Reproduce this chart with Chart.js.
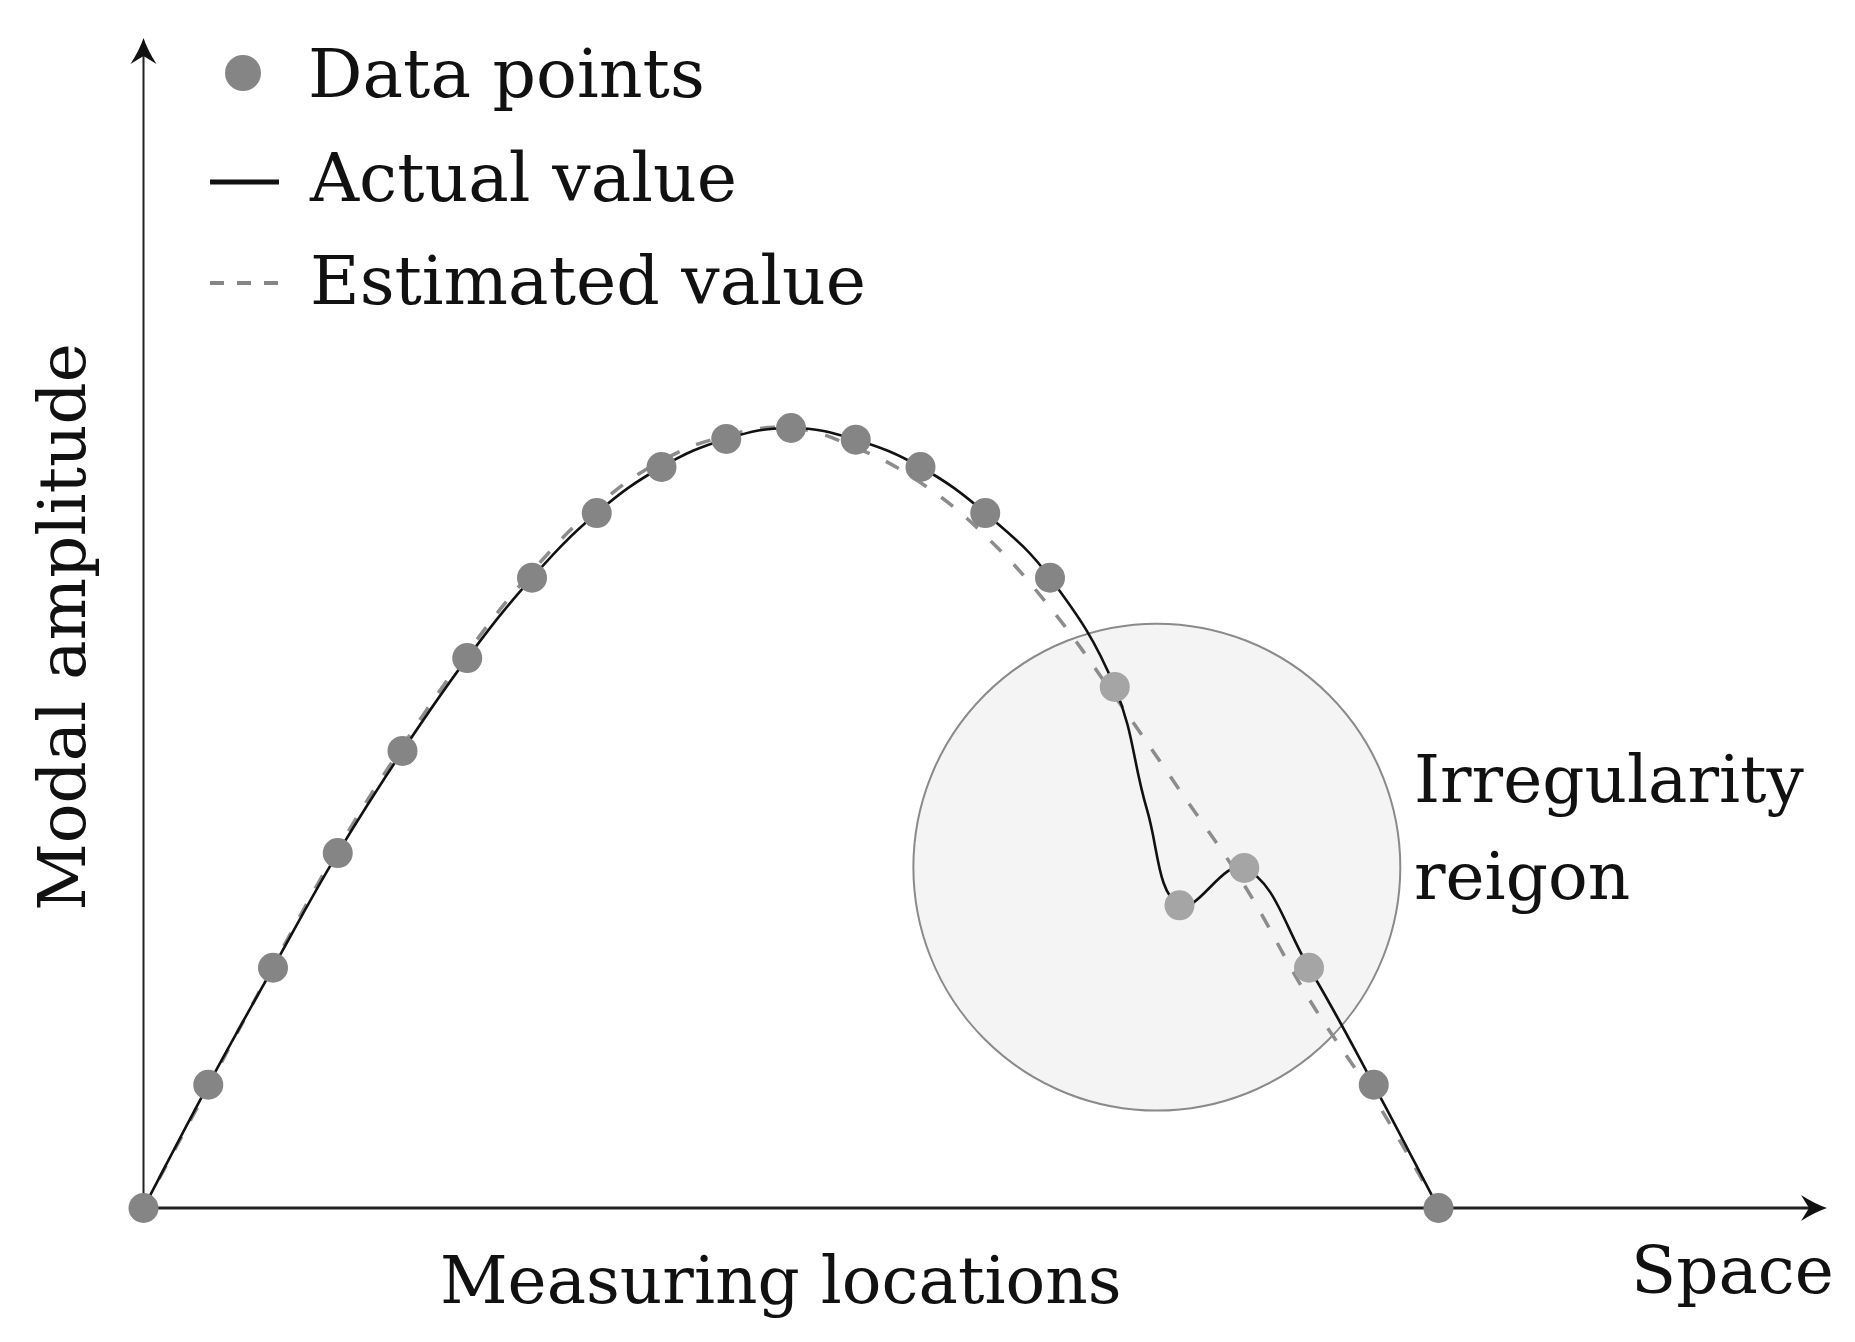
<!DOCTYPE html>
<html>
<head>
<meta charset="utf-8">
<script src="https://cdn.jsdelivr.net/npm/chart.js@4/dist/chart.umd.min.js"></script>
<style>
  html, body { margin: 0; padding: 0; background: #fff; }
  canvas { display: block; }
</style>
</head>
<body>
<canvas id="modeChart" width="1855" height="1342"></canvas>
<script>
// measuring locations along the span
const locations = [0, 1, 2, 3, 4, 5, 6, 7, 8, 9, 10, 11, 12, 13, 14, 15, 16, 17, 18, 19, 20];
// measured modal amplitude at each location (the grey dots)
const measuredAmp = [0, 0.158, 0.308, 0.455, 0.586, 0.705, 0.808, 0.891, 0.950, 0.986, 1.0,
  0.985, 0.950, 0.891, 0.808, 0.668, 0.388, 0.436, 0.308, 0.158, 0];
// actual mode shape (solid line)
const actualLocs = [0, 1, 2, 3, 4, 5, 6, 7, 8, 9, 10, 11, 12, 13, 14, 15, 15.5, 16, 17, 18, 19, 20];
const actualAmp = [0, 0.158, 0.308, 0.455, 0.586, 0.705, 0.808, 0.891, 0.950, 0.986, 1.0,
  0.985, 0.950, 0.891, 0.808, 0.668, 0.510, 0.388, 0.436, 0.308, 0.158, 0];
// estimated mode shape (dashed line)
const estimatedAmp = [0, 0.155, 0.310, 0.460, 0.592, 0.712, 0.816, 0.900, 0.958, 0.990, 1.0,
  0.975, 0.930, 0.862, 0.770, 0.656, 0.536, 0.414, 0.268, 0.142, 0];

// irregularity region (data units, radius in x units)
const regionX = 15.65;
const regionY = 0.437;
const regionR = 3.76;

const legendLabels = ["Data points", "Actual value", "Estimated value"];

const toXY = (xs, ys) => xs.map((x, i) => ({ x: x, y: ys[i] }));

const FONT = "'DejaVu Serif', serif";

// is a point inside the irregularity circle? (checked in pixels)
const inRegion = (chart, x, y) => {
  const sx = chart.scales.x, sy = chart.scales.y;
  const cx = sx.getPixelForValue(regionX), cy = sy.getPixelForValue(regionY);
  const r = sx.getPixelForValue(regionX + regionR) - cx;
  const px = sx.getPixelForValue(x), py = sy.getPixelForValue(y);
  return Math.hypot(px - cx, py - cy) < r;
};

const arrowHead = (ctx, tipX, tipY, dir) => {
  // dir: 'right' or 'up'
  ctx.save();
  ctx.translate(tipX, tipY);
  if (dir === 'up') ctx.rotate(-Math.PI / 2);
  ctx.beginPath();
  ctx.moveTo(0, 0);
  ctx.quadraticCurveTo(-12, -4, -26, -13);
  ctx.lineTo(-18, 0);
  ctx.lineTo(-26, 13);
  ctx.quadraticCurveTo(-12, 4, 0, 0);
  ctx.closePath();
  ctx.fillStyle = '#111';
  ctx.fill();
  ctx.restore();
};

const decor = {
  id: 'decor',
  beforeDatasetsDraw(chart) {
    const ctx = chart.ctx;
    const a = chart.chartArea;
    const sx = chart.scales.x, sy = chart.scales.y;

    // shaded circle
    const cx = sx.getPixelForValue(regionX), cy = sy.getPixelForValue(regionY);
    const r = sx.getPixelForValue(regionX + regionR) - cx;
    ctx.save();
    ctx.beginPath();
    ctx.arc(cx, cy, r, 0, Math.PI * 2);
    ctx.fillStyle = '#f4f4f4';
    ctx.fill();
    ctx.lineWidth = 2;
    ctx.strokeStyle = '#8a8a8a';
    ctx.stroke();
    ctx.restore();

    // axes
    const x0 = sx.getPixelForValue(0), y0 = sy.getPixelForValue(0);
    ctx.save();
    ctx.strokeStyle = '#222';
    ctx.lineWidth = 3;
    ctx.beginPath();
    ctx.moveTo(x0, y0);
    ctx.lineTo(a.right - 12, y0);
    ctx.stroke();
    ctx.lineWidth = 2;
    ctx.beginPath();
    ctx.moveTo(x0, y0);
    ctx.lineTo(x0, a.top + 12);
    ctx.stroke();
    ctx.restore();
    arrowHead(ctx, a.right, y0, 'right');
    arrowHead(ctx, x0, a.top, 'up');
  },
  afterDraw(chart) {
    const ctx = chart.ctx;
    ctx.save();
    ctx.fillStyle = '#111';
    ctx.textBaseline = 'alphabetic';
    ctx.textAlign = 'left';

    // legend
    ctx.font = '68px ' + FONT;
    ctx.fillText(legendLabels[0], 308, 97);
    ctx.fillText(legendLabels[1], 310, 201);
    ctx.fillText(legendLabels[2], 310, 304);

    ctx.beginPath();
    ctx.arc(243, 73, 18, 0, Math.PI * 2);
    ctx.fillStyle = '#858585';
    ctx.fill();

    ctx.strokeStyle = '#111';
    ctx.lineWidth = 5;
    ctx.beginPath();
    ctx.moveTo(210, 182);
    ctx.lineTo(279, 182);
    ctx.stroke();

    ctx.strokeStyle = '#858585';
    ctx.lineWidth = 4;
    ctx.setLineDash([14, 13]);
    ctx.beginPath();
    ctx.moveTo(210, 283);
    ctx.lineTo(279, 283);
    ctx.stroke();
    ctx.setLineDash([]);

    // axis titles
    ctx.fillStyle = '#111';
    ctx.font = '66px ' + FONT;
    ctx.fillText('Measuring locations', 440, 1303);
    ctx.fillText('Space', 1631, 1293);
    ctx.fillText('Irregularity', 1414, 802);
    ctx.fillText('reigon', 1414, 899);

    ctx.save();
    ctx.translate(85, 627);
    ctx.rotate(-Math.PI / 2);
    ctx.textAlign = 'center';
    ctx.fillText('Modal amplitude', 0, 0);
    ctx.restore();

    ctx.restore();
  }
};

new Chart(document.getElementById('modeChart'), {
  type: 'scatter',
  data: {
    datasets: [
      {
        label: 'Data points',
        data: toXY(locations, measuredAmp),
        showLine: false,
        pointRadius: 15,
        pointHoverRadius: 15,
        pointBorderWidth: 0,
        pointBackgroundColor: (c) => (c.raw && inRegion(c.chart, c.raw.x, c.raw.y)) ? '#a5a5a5' : '#858585',
        clip: false
      },
      {
        label: 'Actual value',
        data: toXY(actualLocs, actualAmp),
        showLine: true,
        pointRadius: 0,
        borderColor: '#111',
        borderWidth: 2.6,
        tension: 0.4,
        clip: false
      },
      {
        label: 'Estimated value',
        data: toXY(locations, estimatedAmp),
        showLine: true,
        pointRadius: 0,
        borderColor: '#8c8c8c',
        borderWidth: 3.5,
        borderDash: [15, 18],
        tension: 0.4,
        clip: false
      }
    ]
  },
  options: {
    responsive: false,
    animation: false,
    devicePixelRatio: 1,
    layout: { padding: { left: 143.5, right: 28, top: 38, bottom: 134 } },
    scales: {
      x: { type: 'linear', min: 0, max: 26, display: false },
      y: { type: 'linear', min: 0, max: 1.5, display: false }
    },
    plugins: {
      legend: { display: false },
      tooltip: { enabled: false }
    }
  },
  plugins: [decor]
});
</script>
</body>
</html>
